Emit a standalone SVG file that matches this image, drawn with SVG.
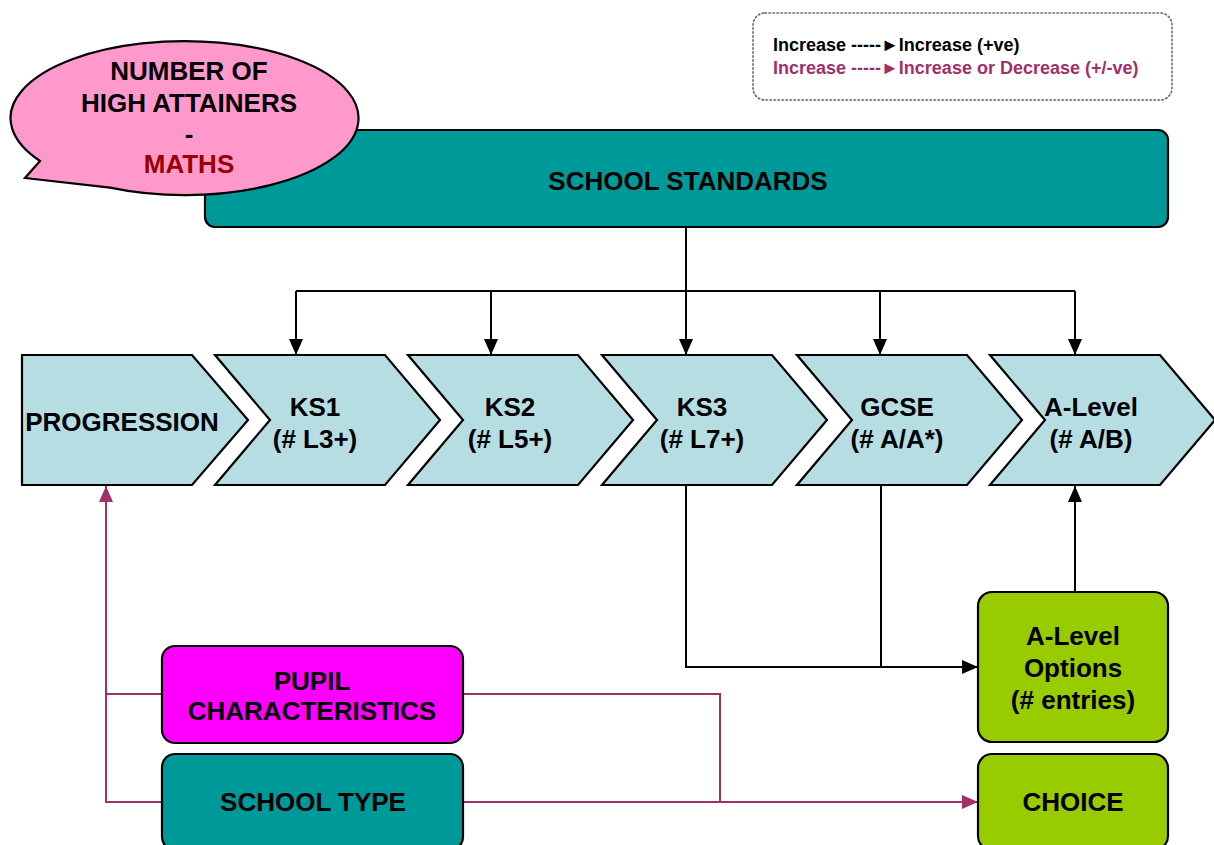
<svg xmlns="http://www.w3.org/2000/svg" width="1214" height="845" viewBox="0 0 1214 845">
<defs>
<style>
.t{font-family:"Liberation Sans",Arial,sans-serif;font-weight:bold;font-size:26px;fill:#000;text-anchor:middle}
.chev{fill:#B6DDE1;stroke:#000;stroke-width:2.2;stroke-linejoin:miter}
.box{stroke:#000;stroke-width:2.2}
.blk{fill:none;stroke:#000;stroke-width:2}
.mag{fill:none;stroke:#A0306A;stroke-width:2}
.leg{font-family:"Liberation Sans",Arial,sans-serif;font-weight:bold;font-size:18px}
</style>
<marker id="ab" viewBox="0 0 16 14" refX="16" refY="7" markerWidth="16" markerHeight="14" markerUnits="userSpaceOnUse" orient="auto">
<path d="M0,0 L16,7 L0,14 Z" fill="#000"/>
</marker>
<marker id="am" viewBox="0 0 16 14" refX="16" refY="7" markerWidth="16" markerHeight="14" markerUnits="userSpaceOnUse" orient="auto">
<path d="M0,0 L16,7 L0,14 Z" fill="#A0306A"/>
</marker>
</defs>
<rect width="1214" height="845" fill="#fff"/>

<g id="legend">
<rect x="753" y="13" width="419" height="87" rx="12" fill="none" stroke="#666" stroke-width="1.6" stroke-dasharray="1.5 2.5" stroke-linecap="round"/>
<text class="leg" x="773" y="51" fill="#000">Increase -----►Increase (+ve)</text>
<text class="leg" x="773" y="74" fill="#A0306A">Increase -----►Increase or Decrease (+/-ve)</text>
</g>

<g id="school-standards">
<rect class="box" x="205" y="130" width="963" height="97" rx="10" fill="#009999"/>
<text class="t" x="688" y="190">SCHOOL STANDARDS</text>
</g>

<g id="bubble">
<path d="M40,161 L25,178 L110,187.7 A174 77 0 1 0 40,161 Z" fill="#FF99CC" stroke="#000" stroke-width="2.2"/>
<text class="t" x="189" y="80">NUMBER OF</text>
<text class="t" x="189" y="112">HIGH ATTAINERS</text>
<text class="t" x="189" y="143">-</text>
<text class="t" x="189" y="173" style="fill:#990000">MATHS</text>
</g>

<g id="connectors">
<path class="blk" d="M296,291 H1075"/>
<path class="blk" d="M686,227 V355" marker-end="url(#ab)"/>
<path class="blk" d="M296,291 V355" marker-end="url(#ab)"/>
<path class="blk" d="M491,291 V355" marker-end="url(#ab)"/>
<path class="blk" d="M880,291 V355" marker-end="url(#ab)"/>
<path class="blk" d="M1075,291 V355" marker-end="url(#ab)"/>
<path class="blk" d="M686,485 V667 H978" marker-end="url(#ab)"/>
<path class="blk" d="M881,485 V667"/>
<path class="blk" d="M1075,592 V486" marker-end="url(#ab)"/>
<path class="mag" d="M162,694 H106"/>
<path class="mag" d="M162,802 H106 V486" marker-end="url(#am)"/>
<path class="mag" d="M463,694 H720 V802"/>
<path class="mag" d="M463,802 H978" marker-end="url(#am)"/>
</g>

<g id="progression">
<path class="chev" d="M22,355 H192 L248,420 L192,485 H22 Z"/>
<text class="t" x="122" y="431">PROGRESSION</text>
</g>
<g id="ks1">
<path class="chev" d="M215,355 H385 L440,420 L385,485 H215 L270,420 Z"/>
<text class="t" x="315" y="416">KS1</text>
<text class="t" x="315" y="448">(# L3+)</text>
</g>
<g id="ks2">
<path class="chev" d="M408,355 H578 L633,420 L578,485 H408 L463,420 Z"/>
<text class="t" x="510" y="416">KS2</text>
<text class="t" x="510" y="448">(# L5+)</text>
</g>
<g id="ks3">
<path class="chev" d="M602,355 H772 L827,420 L772,485 H602 L657,420 Z"/>
<text class="t" x="702" y="416">KS3</text>
<text class="t" x="702" y="448">(# L7+)</text>
</g>
<g id="gcse">
<path class="chev" d="M797,355 H967 L1022,420 L967,485 H797 L852,420 Z"/>
<text class="t" x="897" y="416">GCSE</text>
<text class="t" x="897" y="448">(# A/A*)</text>
</g>
<g id="alevel">
<path class="chev" d="M990,355 H1160 L1215,420 L1160,485 H990 L1045,420 Z"/>
<text class="t" x="1091" y="416">A-Level</text>
<text class="t" x="1091" y="448">(# A/B)</text>
</g>

<g id="pupil">
<rect class="box" x="162" y="646" width="301" height="97" rx="13" fill="#FF00FF"/>
<text class="t" x="312" y="690">PUPIL</text>
<text class="t" x="312" y="720">CHARACTERISTICS</text>
</g>
<g id="school-type">
<rect class="box" x="162" y="754" width="301" height="96" rx="13" fill="#009999"/>
<text class="t" x="313" y="811">SCHOOL TYPE</text>
</g>
<g id="alevel-options">
<rect class="box" x="978" y="592" width="190" height="150" rx="14" fill="#99CC00"/>
<text class="t" x="1073" y="645">A-Level</text>
<text class="t" x="1073" y="677">Options</text>
<text class="t" x="1073" y="709">(# entries)</text>
</g>
<g id="choice">
<rect class="box" x="978" y="754" width="190" height="96" rx="14" fill="#99CC00"/>
<text class="t" x="1073" y="811">CHOICE</text>
</g>
</svg>
